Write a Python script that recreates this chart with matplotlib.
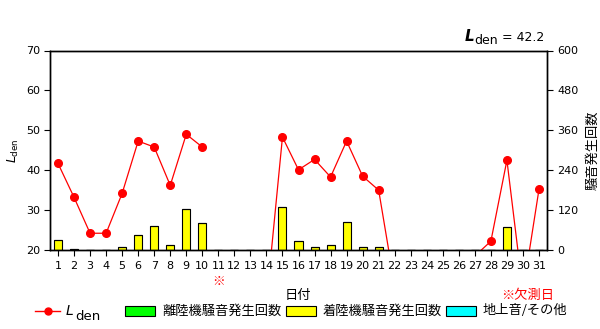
import numpy as np
import matplotlib.pyplot as plt
from matplotlib.patches import Rectangle
from matplotlib.lines import Line2D

days = np.arange(1, 32)
lden = [41.7, 33.2, 24.2, 24.2, 34.2, 47.3, 45.8, 36.2, 49.0, 45.8,
        np.nan, 7.0, 7.0, 7.0, 48.3, 40.1, 42.7, 38.3, 47.3, 38.5,
        35.0, 11.0, 10.0, 10.0, 10.0, 10.0, 18.5, 22.2, 42.5, 9.5, 35.2]
takeoff = [0] * 31
landing = [29, 2, 0, 0, 8, 44, 71, 14, 122, 80,
           0, 0, 0, 0, 128, 26, 8, 14, 83, 8,
           8, 0, 0, 0, 0, 0, 0, 0, 68, 0, 0]
ground = [0] * 31
lden_total = 42.2
missing_days = [11]

jp = ['Noto Sans CJK JP', 'DejaVu Sans']

fig = plt.figure(figsize=(6, 3.29), dpi=100)


def px(x, y):
    return x / 600, 1 - y / 329


ax2 = fig.add_axes([50 / 600, 79 / 329, 497 / 600, 199.5 / 329])
ax = ax2.twinx()
ax2.yaxis.tick_right()
ax2.yaxis.set_label_position('right')
ax.yaxis.tick_left()
ax.yaxis.set_label_position('left')

# counts as stacked bars on right axis
ax2.bar(days, takeoff, width=0.5, color='#00ff00', edgecolor='black', linewidth=0.8)
ax2.bar(days, landing, width=0.5, bottom=takeoff, color='#ffff00', edgecolor='black', linewidth=0.8)
ax2.bar(days, ground, width=0.5, bottom=np.add(takeoff, landing), color='#00ffff',
        edgecolor='black', linewidth=0.8)
ax2.set_ylim(0, 600)
ax2.set_yticks(np.arange(0, 601, 120))
ax2.set_ylabel('騒音発生回数', family=jp, fontsize=9.5)
ax2.yaxis.set_label_coords(1.08, 0.5)

# Lden line on left axis
ax.plot(days, lden, color='red', linewidth=0.9, marker='o', markersize=5.5)
ax.set_ylim(20, 70)
ax.set_yticks(np.arange(20, 71, 10))
ax.set_ylabel(r'$\it{L}_{\rm den}$', fontsize=9)
ax.yaxis.set_label_coords(-0.058, 0.5)

ax2.set_xlim(0.5, 31.5)
ax2.set_xticks(days)

for a in (ax, ax2):
    a.tick_params(direction='out', length=4, width=0.8, labelsize=8, colors='black')
    for s in a.spines.values():
        s.set_linewidth(1.0)
ax.tick_params(axis='y', pad=3)
ax2.tick_params(axis='x', pad=4)

for d in missing_days:
    ax2.annotate('※', xy=(d, 0), xycoords='data', xytext=(0, -23), textcoords='offset points',
                 ha='center', va='center', color='red', fontsize=9, family=jp)

# top right total
fig.text(*px(465, 41), 'L', fontsize=11, fontstyle='italic', fontweight='bold', va='baseline')
fig.text(*px(474, 44), 'den', fontsize=9, va='baseline')
fig.text(*px(502, 41), '= %.1f' % lden_total, fontsize=9, va='baseline')

fig.text(*px(298, 295), '日付', family=jp, fontsize=9.5, ha='center', va='center')
fig.text(*px(528, 295), '※欠測日', family=jp, fontsize=9.5, ha='center', va='center', color='red')

# legend row
fig.add_artist(Line2D([35 / 600, 60 / 600], [1 - 311 / 329] * 2, color='red', linewidth=1,
                      transform=fig.transFigure))
fig.add_artist(Line2D([48 / 600], [1 - 311 / 329], color='red', marker='o', markersize=5,
                      transform=fig.transFigure))
fig.text(*px(66, 315), 'L', fontsize=10, fontstyle='italic', va='baseline')
fig.text(*px(75, 320), 'den', fontsize=9.5, va='baseline')

items = [(125, '#00ff00', '離陸機騒音発生回数'),
         (286, '#ffff00', '着陸機騒音発生回数'),
         (446, '#00ffff', '地上音/その他')]
for x0, c, lab in items:
    fig.add_artist(Rectangle(px(x0, 316), 30 / 600, 10 / 329, facecolor=c, edgecolor='black',
                             linewidth=0.8, transform=fig.transFigure))
    fig.text(*px(x0 + 37, 311), lab, family=jp, fontsize=9.5, va='center')

fig.savefig('out.png', dpi=100)
